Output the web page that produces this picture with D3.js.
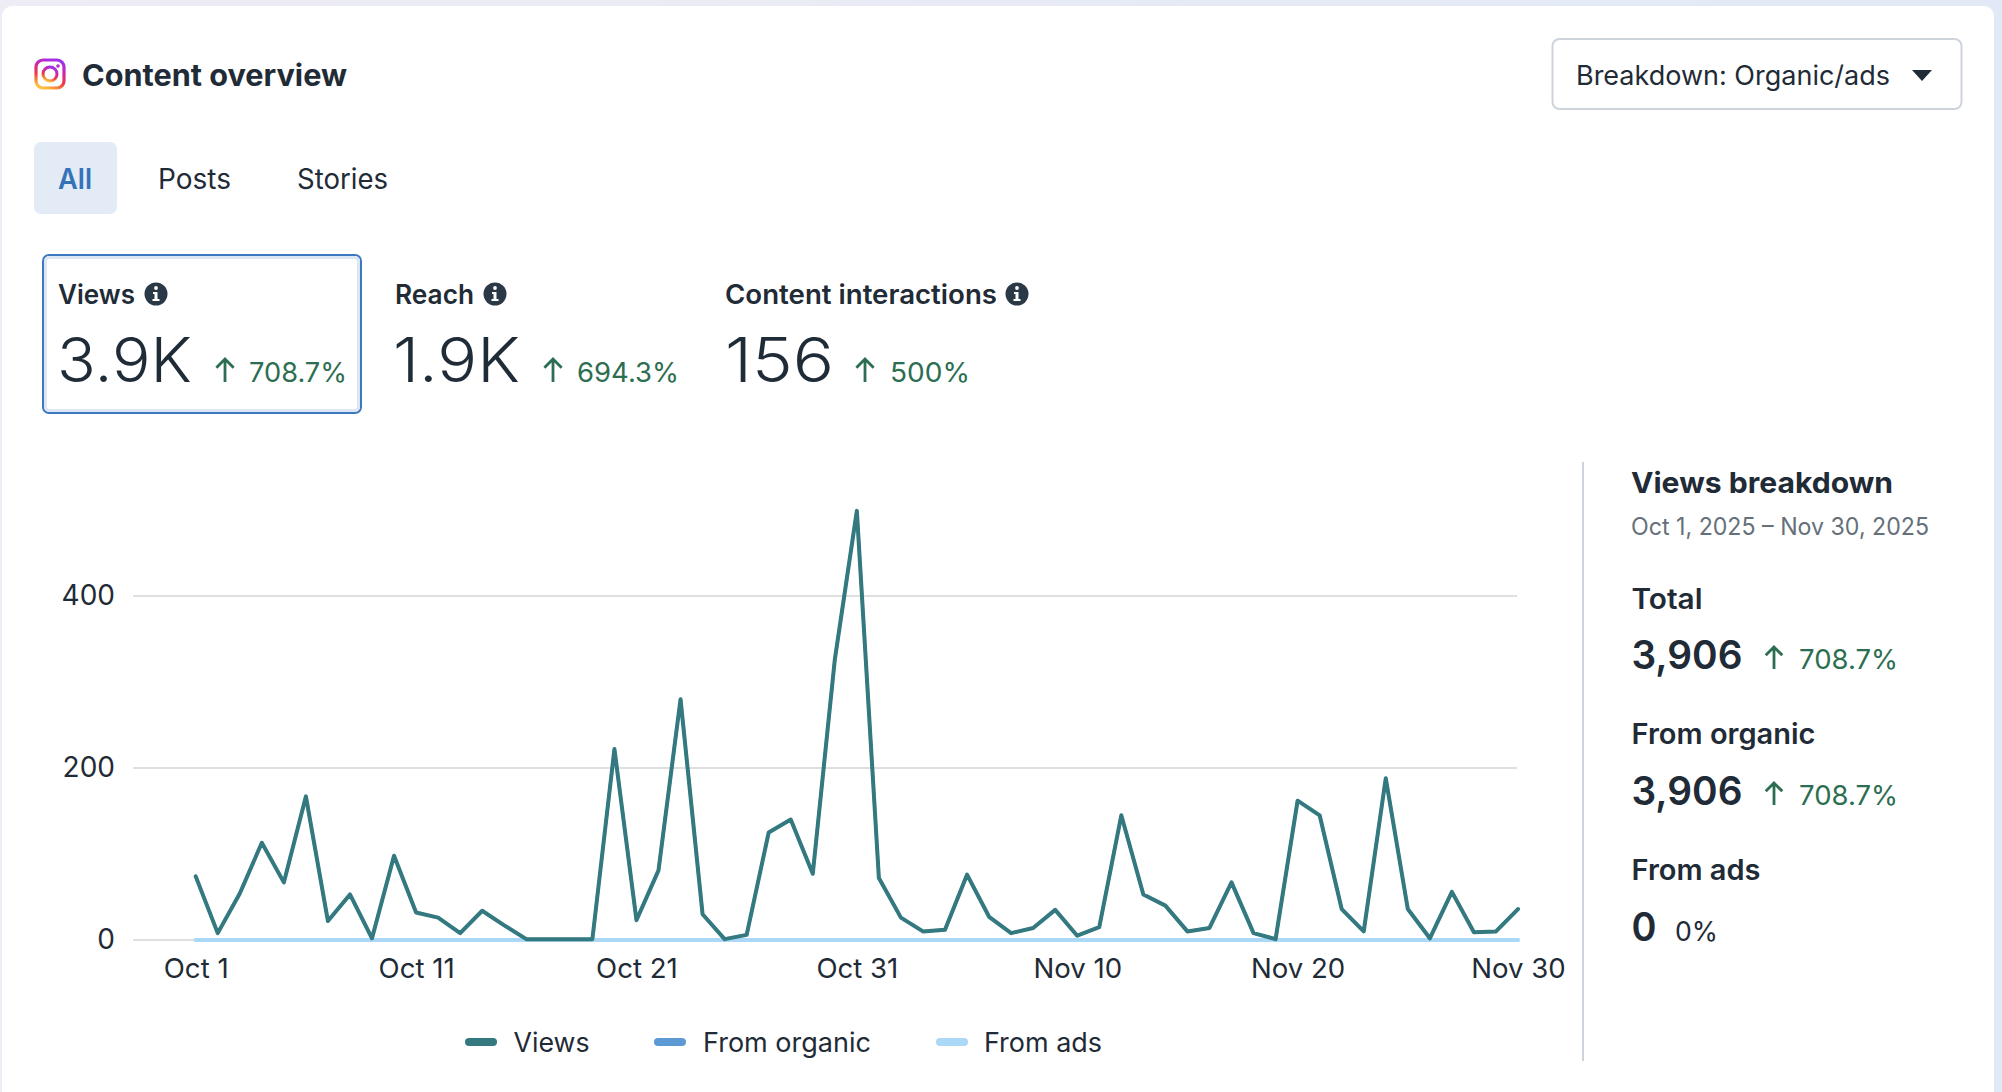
<!DOCTYPE html>
<html lang="en">
    <head>
        <meta charset="UTF-8">
        <title>Content overview</title>
        <script src="https://cdn.jsdelivr.net/npm/d3@7/dist/d3.min.js"></script>
        <style type="text/css">
            html, body {margin: 0; padding: 0; overflow: hidden; background: #e6eaf5;}
            svg {display: block;}
            text {font-family: Inter, "Noto Sans", sans-serif;}
        </style>
    </head>
    <body>
        <svg id="chart" width="2002" height="1092"></svg>
        <script>
            // daily values, Oct 1 to Nov 30 2025
            var views = [74, 8, 54, 113, 67, 167, 22, 53, 2, 98, 32, 26, 8, 34, 17, 1, 1, 1, 1, 222,
                23, 81, 280, 30, 1, 6, 125, 140, 77, 326, 499, 72, 26, 10, 12, 76, 27, 8, 14, 35, 5,
                15, 145, 53, 40, 10, 14, 67, 8, 1, 162, 145, 36, 10, 188, 36, 2, 56, 9, 10, 36];
            var organic = views.slice();
            var ads = views.map(function() { return 0; });

            var yTicks = [0, 200, 400];
            var xTickDays = [1, 11, 21, 31, 41, 51, 61];
            var legendNames = ['Views', 'From organic', 'From ads'];
            var tabNames = ['All', 'Posts', 'Stories'];
            var metricNames = ['Views', 'Reach', 'Content interactions'];
            var metricValues = ['3.9K', '1.9K', '156'];
            var metricDeltas = ['708.7%', '694.3%', '500%'];
            var breakdownNames = ['Total', 'From organic', 'From ads'];
            var breakdownValues = ['3,906', '3,906', '0'];
            var breakdownDeltas = ['708.7%', '708.7%', '0%'];

            var INK = '#1f2b36';
            var GREEN = '#2c6e51';
            var seriesColors = ['#33797f', '#5b9ad5', '#abd8f7'];

            var svg = d3.select('#chart');
            var defs = svg.append('defs');

            var bg = defs.append('linearGradient').attr('id', 'pagebg');
            bg.append('stop').attr('offset', '0%').attr('stop-color', '#eeecf4');
            bg.append('stop').attr('offset', '100%').attr('stop-color', '#e1e9f6');

            var ig = defs.append('linearGradient').attr('id', 'ig')
                .attr('x1', '30%').attr('y1', '100%').attr('x2', '70%').attr('y2', '0%');
            ig.append('stop').attr('offset', '0%').attr('stop-color', '#fdc13e');
            ig.append('stop').attr('offset', '35%').attr('stop-color', '#ee3a3f');
            ig.append('stop').attr('offset', '65%').attr('stop-color', '#d1259f');
            ig.append('stop').attr('offset', '100%').attr('stop-color', '#a22ff0');

            svg.append('rect').attr('width', 2002).attr('height', 1092).attr('fill', 'url(#pagebg)');
            svg.append('rect').attr('x', 2).attr('y', 6).attr('width', 1992).attr('height', 1100)
                .attr('rx', 10).attr('fill', '#fff');

            // text with a fixed left edge, baseline and drawn width
            var label = function(str, x, y, size, weight, fill, width) {
                var t = svg.append('text')
                    .attr('x', x)
                    .attr('y', y)
                    .attr('font-size', size)
                    .attr('font-weight', weight)
                    .attr('fill', fill)
                    .text(str);
                if (width) {
                    t.attr('textLength', width).attr('lengthAdjust', 'spacingAndGlyphs');
                }
                return t;
            };

            var upArrow = function(cx, top, bottom) {
                var wing = (bottom - top) * 0.36;
                svg.append('path')
                    .attr('d', 'M' + cx + ',' + bottom + 'V' + (top + 1) +
                        'M' + (cx - wing) + ',' + (top + wing + 1) + 'L' + cx + ',' + (top + 1) + 'L' + (cx + wing) + ',' + (top + wing + 1))
                    .attr('fill', 'none')
                    .attr('stroke', GREEN)
                    .attr('stroke-width', 2.8);
            };

            var infoIcon = function(cx, cy) {
                svg.append('circle').attr('cx', cx).attr('cy', cy).attr('r', 11.5).attr('fill', '#2b3946');
                svg.append('circle').attr('cx', cx).attr('cy', cy - 6).attr('r', 1.9).attr('fill', '#fff');
                svg.append('path')
                    .attr('d', 'M' + (cx - 3) + ',' + (cy - 2) + 'H' + (cx + 1.5) + 'V' + (cy + 5) + 'H' + (cx + 3.5) + 'V' + (cy + 7) + 'H' + (cx - 3.5) + 'V' + (cy + 5) + 'H' + (cx - 1.5) + 'V' + cy + 'H' + (cx - 3) + 'Z')
                    .attr('fill', '#fff');
            };

            // header
            svg.append('rect').attr('x', 36).attr('y', 60).attr('width', 28).attr('height', 28)
                .attr('rx', 7).attr('fill', 'none').attr('stroke', 'url(#ig)').attr('stroke-width', 3.2);
            svg.append('circle').attr('cx', 50).attr('cy', 74).attr('r', 7)
                .attr('fill', 'none').attr('stroke', 'url(#ig)').attr('stroke-width', 3);
            svg.append('circle').attr('cx', 58).attr('cy', 66).attr('r', 1.8).attr('fill', '#b52bc4');
            label('Content overview', 82, 86, 30, 700, INK, 265);

            svg.append('rect').attr('x', 1552.5).attr('y', 39).attr('width', 409).attr('height', 70)
                .attr('rx', 7).attr('fill', '#fff').attr('stroke', '#ced4db').attr('stroke-width', 2);
            label('Breakdown: Organic/ads', 1576, 85, 27, 400, INK, 314);
            svg.append('path').attr('d', 'M1912,70H1932L1922,81Z').attr('fill', INK);

            // tabs
            svg.append('rect').attr('x', 34).attr('y', 142).attr('width', 83).attr('height', 72)
                .attr('rx', 7).attr('fill', '#e2ebf6');
            var tabX = [58, 158, 297];
            var tabW = [34, 73, 91];
            tabNames.forEach(function(name, i) {
                label(name, tabX[i], 189, 28, i === 0 ? 600 : 400, i === 0 ? '#3573b9' : INK, tabW[i]);
            });

            // metric cards
            svg.append('rect').attr('x', 43).attr('y', 255).attr('width', 318).attr('height', 158)
                .attr('rx', 6).attr('fill', '#fff').attr('stroke', '#3b78c0').attr('stroke-width', 2);
            svg.append('rect').attr('x', 45.5).attr('y', 257.5).attr('width', 313).attr('height', 153)
                .attr('rx', 4).attr('fill', 'none').attr('stroke', '#dce7f3').attr('stroke-width', 3);

            var metricX = [58, 395, 725];
            var nameW = [77, 79, 272];
            var infoX = [156, 495, 1017];
            var valueX = [57, 393, 725];
            var valueW = [135, 127, 109];
            var arrowX = [225, 553, 865];
            var deltaX = [249, 577, 890];
            var deltaW = [98, 102, 80];
            metricNames.forEach(function(name, i) {
                label(name, metricX[i], 304, 27, 600, INK, nameW[i]);
                infoIcon(infoX[i], 294);
                label(metricValues[i], valueX[i], 382, 62, 300, INK, valueW[i]);
                upArrow(arrowX[i], 358, 382);
                label(metricDeltas[i], deltaX[i], 382, 27, 400, GREEN, deltaW[i]);
            });

            // chart
            var x = d3.scaleUtc()
                .domain([new Date(Date.UTC(2025, 9, 1)), new Date(Date.UTC(2025, 10, 30))])
                .range([195.7, 1518]);
            var y = d3.scaleLinear().domain([0, 400]).range([940, 596]);

            var dayOf = function(i) { return new Date(Date.UTC(2025, 9, 1 + i)); };
            var line = d3.line()
                .x(function(d, i) { return x(dayOf(i)); })
                .y(function(d) { return y(d); });

            var yAxis = d3.axisLeft(y)
                .tickValues(yTicks)
                .tickSizeInner(-1384)
                .tickSizeOuter(0)
                .tickPadding(18);
            var yG = svg.append('g').attr('transform', 'translate(133,0)').call(yAxis);
            yG.select('.domain').remove();
            yG.selectAll('line').attr('stroke', '#d4d4d4').attr('stroke-width', 1.6).attr('transform', 'translate(0,-0.5)');
            yG.selectAll('text').attr('font-size', 28).attr('fill', INK).attr('font-family', 'Inter');

            var xAxis = d3.axisBottom(x)
                .tickValues(xTickDays.map(function(d) { return dayOf(d - 1); }))
                .tickFormat(d3.utcFormat('%b %-d'))
                .tickSize(0)
                .tickPadding(18);
            var xG = svg.append('g').attr('transform', 'translate(0,940)').call(xAxis);
            xG.select('.domain').remove();
            xG.selectAll('text').attr('font-size', 27.6).attr('fill', INK).attr('font-family', 'Inter');

            // ads first so the views line sits on top, as in the reference
            [[ads, 2, 4.2], [organic, 1, 3], [views, 0, 4]].forEach(function(s) {
                svg.append('path')
                    .attr('d', line(s[0]))
                    .attr('fill', 'none')
                    .attr('stroke', seriesColors[s[1]])
                    .attr('stroke-width', s[2])
                    .attr('stroke-linejoin', 'round')
                    .attr('stroke-linecap', 'round');
            });

            // legend
            var swatchX = [465, 654, 936];
            var legendX = [513.5, 703, 984];
            var legendW = [76, 168, 118];
            legendNames.forEach(function(name, i) {
                svg.append('rect').attr('x', swatchX[i]).attr('y', 1038).attr('width', 32).attr('height', 8)
                    .attr('rx', 4).attr('fill', seriesColors[i]);
                label(name, legendX[i], 1052, 27, 400, INK, legendW[i]);
            });

            // breakdown panel
            svg.append('line').attr('x1', 1583).attr('x2', 1583).attr('y1', 462).attr('y2', 1061)
                .attr('stroke', '#ced4db').attr('stroke-width', 2);
            label('Views breakdown', 1631, 493, 29, 700, INK, 262);
            label('Oct 1, 2025 – Nov 30, 2025', 1631, 535, 24, 400, '#65707a', 298);

            var nameY = [608.5, 744, 880];
            var valueY = [669, 805, 941];
            var panelNameW = [71, 184, 129];
            var panelValueW = [111, 111, 25];
            breakdownNames.forEach(function(name, i) {
                label(name, 1631.5, nameY[i], 28, 600, INK, panelNameW[i]);
                label(breakdownValues[i], 1631.5, valueY[i], 40, 600, INK, panelValueW[i]);
                if (breakdownDeltas[i] === '0%') {
                    label(breakdownDeltas[i], 1675, valueY[i], 27, 400, INK, 43);
                } else {
                    upArrow(1774, valueY[i] - 23, valueY[i]);
                    label(breakdownDeltas[i], 1799, valueY[i], 27, 400, GREEN, 99);
                }
            });
        </script>
    </body>
</html>
